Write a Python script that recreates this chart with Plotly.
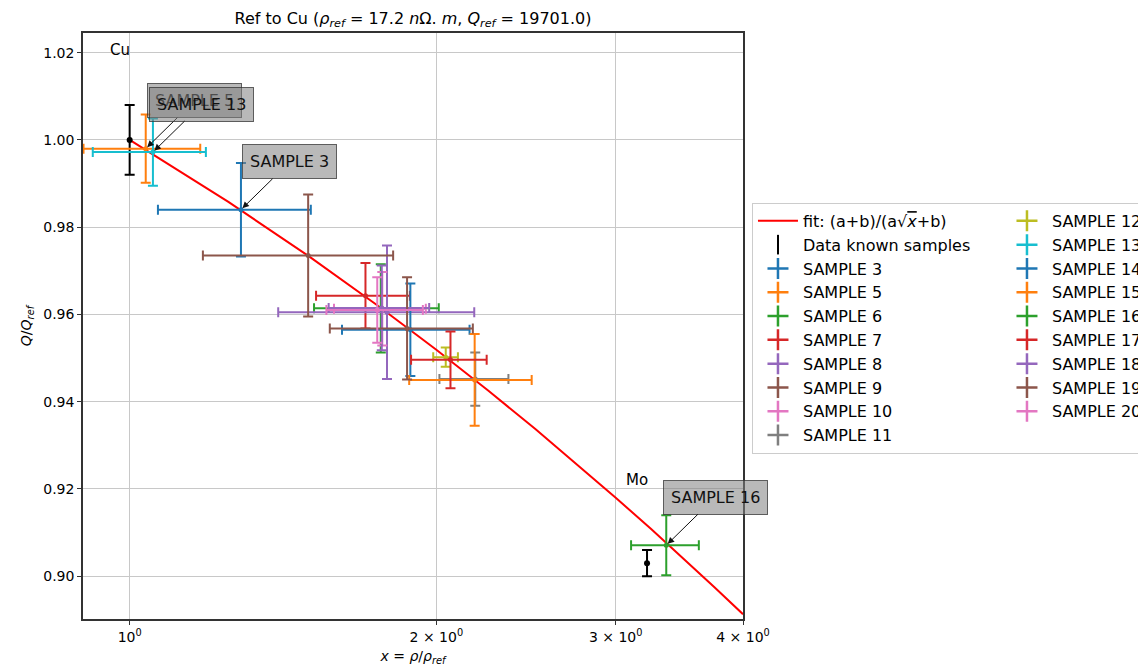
import math
import plotly.graph_objects as go

# ---------------- data ----------------
fit_x = [1.00, 1.25, 1.50, 1.75, 2.00, 2.25, 2.50, 2.75, 3.00, 3.25, 3.50, 3.75, 4.00]
fit_y = [1.0000, 0.9858, 0.9733, 0.9621, 0.9519, 0.9425, 0.9338, 0.9256, 0.9180, 0.9108, 0.9040, 0.8975, 0.8913]

known_x = [1.00, 3.22]
known_y = [1.000, 0.903]
known_yerr = [0.008, 0.003]

sample_names = ["SAMPLE 3", "SAMPLE 5", "SAMPLE 6", "SAMPLE 7", "SAMPLE 8", "SAMPLE 9",
                "SAMPLE 10", "SAMPLE 11", "SAMPLE 12", "SAMPLE 13", "SAMPLE 14", "SAMPLE 15",
                "SAMPLE 16", "SAMPLE 17", "SAMPLE 18", "SAMPLE 19", "SAMPLE 20"]
sample_x = [1.286, 1.037, 1.764, 1.704, 1.789, 1.497, 1.770, 2.184, 2.043, 1.054,
            1.886, 2.181, 3.363, 2.065, 1.768, 1.872, 1.750]
sample_xerr = [0.220, 0.136, 0.247, 0.180, 0.390, 0.317, 0.183, 0.170, 0.057, 0.134,
               0.270, 0.300, 0.257, 0.176, 0.200, 0.300, 0.190]
sample_y = [0.9840, 0.9980, 0.9614, 0.9643, 0.9605, 0.9735, 0.9613, 0.9452, 0.9502, 0.9972,
            0.9565, 0.9450, 0.9071, 0.9496, 0.9615, 0.9568, 0.9610]
sample_yerr = [0.0107, 0.0078, 0.0101, 0.0075, 0.0153, 0.0140, 0.0084, 0.0061, 0.0022, 0.0077,
               0.0106, 0.0105, 0.0069, 0.0065, 0.0097, 0.0117, 0.0075]

annotated = ["SAMPLE 5", "SAMPLE 13", "SAMPLE 3", "SAMPLE 16"]

element_labels = ["Cu", "Mo"]
element_label_x = [0.952, 3.057]
element_label_y = [1.0181, 0.9195]

x_tickvals = [1, 2, 3, 4]
x_ticktext = ["10<sup>0</sup>", "2 × 10<sup>0</sup>", "3 × 10<sup>0</sup>", "4 × 10<sup>0</sup>"]
y_tickvals = [0.90, 0.92, 0.94, 0.96, 0.98, 1.00, 1.02]

tab10 = ["#1f77b4", "#ff7f0e", "#2ca02c", "#d62728", "#9467bd",
         "#8c564b", "#e377c2", "#7f7f7f", "#bcbd22", "#17becf"]

FONT = "DejaVu Sans"

# legend laid out as two columns (column-major) using a horizontal wrapping legend
col1 = ["fit", "known"] + sample_names[:8]
col2 = sample_names[8:]
rank = {}
r = 1
for i in range(len(col1)):
    rank[col1[i]] = r
    r += 1
    if i < len(col2):
        rank[col2[i]] = r
        r += 1

fig = go.Figure()

fig.add_trace(go.Scatter(
    x=fit_x, y=fit_y, mode="lines", line=dict(color="red", width=2),
    name="fit: (a+b)/(a√<span style='text-decoration:overline'><i>x</i></span>+b)",
    legendrank=rank["fit"]))

fig.add_trace(go.Scatter(
    x=known_x, y=known_y, mode="markers", name="Data known samples",
    marker=dict(color="black", size=6), showlegend=False,
    error_y=dict(type="data", array=known_yerr, color="black", thickness=2, width=5)))
# legend glyph for the known samples (errorbar-like)
fig.add_trace(go.Scatter(
    x=[None], y=[None], mode="markers", name="Data known samples",
    marker=dict(color="black", size=14, symbol="line-ns", line=dict(width=2, color="black")),
    legendrank=rank["known"]))

for i, name in enumerate(sample_names):
    c = tab10[i % 10]
    fig.add_trace(go.Scatter(
        x=[sample_x[i]], y=[sample_y[i]], mode="markers", name=name,
        marker=dict(color=c, size=5), showlegend=False,
        error_x=dict(type="data", array=[sample_xerr[i]], color=c, thickness=2, width=5),
        error_y=dict(type="data", array=[sample_yerr[i]], color=c, thickness=2, width=5)))
    # legend glyph (errorbar-like cross)
    fig.add_trace(go.Scatter(
        x=[None], y=[None], mode="markers", name=name,
        marker=dict(color=c, size=15, symbol="cross-thin", line=dict(width=2.5, color=c)),
        legendrank=rank[name]))

annotations = []
for name in annotated:
    i = sample_names.index(name)
    annotations.append(dict(
        x=math.log10(sample_x[i]), y=sample_y[i], xref="x", yref="y",
        text=name, showarrow=True, ax=49, ay=-48,
        arrowhead=2, arrowsize=1.3, arrowwidth=1, arrowcolor="#111", standoff=2,
        bgcolor="rgba(128,128,128,0.55)", bordercolor="rgba(50,50,50,0.75)",
        borderwidth=1, borderpad=7,
        font=dict(family=FONT, size=16, color="#111")))

for t, lx, ly in zip(element_labels, element_label_x, element_label_y):
    annotations.append(dict(x=math.log10(lx), y=ly, xref="x", yref="y", text=t, showarrow=False,
                            xanchor="left", yanchor="bottom",
                            font=dict(family=FONT, size=15, color="black")))

fig.update_layout(
    width=1146, height=670,
    margin=dict(l=75, r=411, t=25, b=59, autoexpand=False),
    paper_bgcolor="white", plot_bgcolor="white",
    font=dict(family=FONT, size=14, color="black"),
    title=dict(text="Ref to Cu (<i>ρ<sub>ref</sub></i> = 17.2 <i>n</i>Ω. <i>m</i>, <i>Q<sub>ref</sub></i> = 19701.0)",
               x=0.5, xref="paper", xanchor="center", y=0.985, yref="container", yanchor="middle",
               font=dict(family=FONT, size=16)),
    showlegend=True,
    legend=dict(orientation="h", x=1.0136, y=0.71, xanchor="left", yanchor="top",
                entrywidth=194, entrywidthmode="pixels", itemwidth=40,
                bgcolor="white", bordercolor="#cccccc", borderwidth=1,
                font=dict(family=FONT, size=16), traceorder="normal"),
    annotations=annotations,
)

fig.update_xaxes(type="log", range=[-0.0458, 0.60206],
                 tickvals=x_tickvals, ticktext=x_ticktext,
                 showgrid=True, gridcolor="#c8c8c8", gridwidth=1,
                 showline=True, linecolor="#333", linewidth=1.5, mirror=True,
                 ticks="outside", ticklen=4, tickcolor="#333",
                 zeroline=False, tickfont=dict(family=FONT, size=14),
                 title=dict(text="<i>x</i> = <i>ρ</i>/<i>ρ<sub>ref</sub></i>", standoff=8,
                            font=dict(family=FONT, size=14)))
fig.update_yaxes(range=[0.8902, 1.0245], tickvals=y_tickvals, tickformat=".2f",
                 showgrid=True, gridcolor="#c8c8c8", gridwidth=1,
                 showline=True, linecolor="#333", linewidth=1.5, mirror=True,
                 ticks="outside", ticklen=4, tickcolor="#333",
                 zeroline=False, tickfont=dict(family=FONT, size=14),
                 title=dict(text="<i>Q</i>/<i>Q<sub>ref</sub></i>", standoff=8,
                            font=dict(family=FONT, size=14)))

fig.write_html("out.html")
